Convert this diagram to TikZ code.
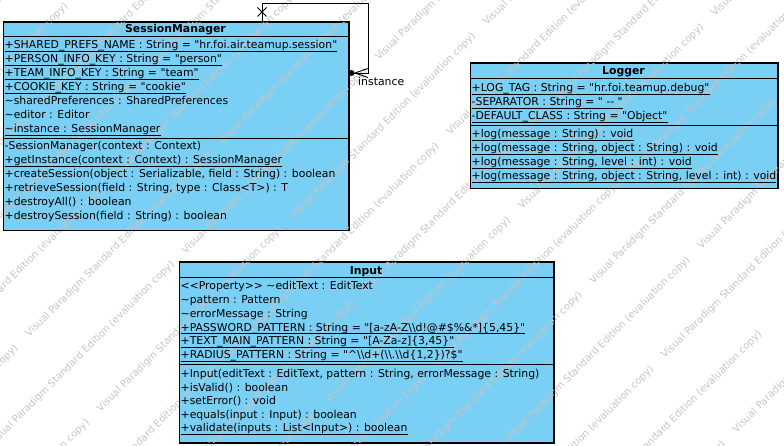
\documentclass[tikz,border=0pt]{standalone}
\usepackage{fontspec}
\setmainfont{DejaVu Sans}[Ligatures=TeXOff]
\definecolor{clsfill}{HTML}{7ACFF5}
\definecolor{wmgray}{HTML}{C6C6C6}
\newcommand\crow[3]{\node[row] (#1) at (#2) {#3};}
\newcommand\urow[3]{\node[row] (#1) at (#2) {#3};
  \draw[uline] ([yshift=-2.6pt]#1.base west) -- ([yshift=-2.6pt]#1.base east);}
\newcommand\wmtext{\makebox[273pt][l]{Visual Paradigm Standard Edition (evaluation copy)}}
\begin{document}
\begin{tikzpicture}[x=1pt,y=-1pt,
  cls/.style={draw=black, fill=clsfill, line width=1pt, inner sep=0pt, anchor=north west},
  sepline/.style={line width=0.9pt},
  row/.style={anchor=base west, inner sep=0pt, font=\fontsize{10.85}{14}\selectfont},
  head/.style={anchor=base, inner sep=0pt, font=\fontsize{10.85}{14}\selectfont\bfseries},
  uline/.style={line width=0.7pt},
  assoc/.style={line width=0.9pt},
  wm/.style={anchor=base west, rotate=45, inner sep=0pt, text=wmgray, font=\fontsize{10}{10}\selectfont}
]
\useasboundingbox (0,0) rectangle (784,446);
\fill[white] (0,0) rectangle (784,446);

% class boxes
\node[cls, minimum width=345pt, minimum height=208pt] (sm) at (3,22) {};
\node[cls, minimum width=307pt, minimum height=125pt] (lg) at (470,63) {};
\node[cls, minimum width=374pt, minimum height=180pt] (in) at (179,262) {};

% watermark
\begin{scope}
\clip (0,0) rectangle (784,446);
\foreach \k in {0,...,17}{
  \pgfmathsetmacro\c{2+73*\k}
  \pgfmathsetmacro\ke{2*floor(\k/2)}
  \pgfmathsetmacro\ph{114+71.5*(\ke-4)/2+108*(\k-\ke)}
  \pgfmathsetmacro\xs{mod(\ph+1930,193)-772}
  \node[wm] (wm\k) at (\xs,\c-\xs) {\wmtext\wmtext\wmtext\wmtext\wmtext\wmtext\wmtext\wmtext};
}
\end{scope}

% separators
\draw[sepline] (sm.west |- 0,36) -- (sm.east |- 0,36);
\draw[sepline] (sm.west |- 0,138) -- (sm.east |- 0,138);
\draw[sepline] (lg.west |- 0,78) -- (lg.east |- 0,78);
\draw[sepline] (lg.west |- 0,125) -- (lg.east |- 0,125);
\draw[sepline] (in.west |- 0,277) -- (in.east |- 0,277);
\draw[sepline] (in.west |- 0,364) -- (in.east |- 0,364);
\draw[line width=1pt] (sm.north west) rectangle (sm.south east);
\draw[line width=1pt] (lg.north west) rectangle (lg.south east);
\draw[line width=1pt] (in.north west) rectangle (in.south east);

% SessionManager
\node[head] (smh) at (175.5,33) {SessionManager};
\urow{sa1}{4.5,49}{+SHARED\_PREFS\_NAME : String = "hr.foi.air.teamup.session"}
\urow{sa2}{4.5,63}{+PERSON\_INFO\_KEY : String = "person"}
\urow{sa3}{4.5,77}{+TEAM\_INFO\_KEY : String = "team"}
\urow{sa4}{4.5,91}{+COOKIE\_KEY : String = "cookie"}
\crow{sa5}{4.5,105}{\textasciitilde sharedPreferences : SharedPreferences}
\crow{sa6}{4.5,119}{\textasciitilde editor : Editor}
\urow{sa7}{4.5,133}{\textasciitilde instance : SessionManager}
\crow{so1}{4.5,150}{-SessionManager(context : Context)}
\urow{so2}{4.5,164}{+getInstance(context : Context) : SessionManager}
\crow{so3}{4.5,178}{+createSession(object : Serializable, field : String) : boolean}
\crow{so4}{4.5,192}{+retrieveSession(field : String, type : Class<T>) : T}
\crow{so5}{4.5,206}{+destroyAll() : boolean}
\crow{so6}{4.5,220}{+destroySession(field : String) : boolean}

% Logger
\node[head] (lgh) at (623.5,75) {Logger};
\urow{la1}{471.5,92}{+LOG\_TAG : String = "hr.foi.teamup.debug"}
\urow{la2}{471.5,106}{-SEPARATOR : String = " -- "}
\urow{la3}{471.5,120}{-DEFAULT\_CLASS : String = "Object"}
\urow{lo1}{471.5,138}{+log(message : String) : void}
\urow{lo2}{471.5,152}{+log(message : String, object : String) : void}
\urow{lo3}{471.5,166}{+log(message : String, level : int) : void}
\urow{lo4}{471.5,180}{+log(message : String, object : String, level : int) : void}

% Input
\node[head] (inh) at (366,274) {Input};
\crow{ia1}{180.5,290}{<<Property>> \textasciitilde editText : EditText}
\crow{ia2}{180.5,303.7}{\textasciitilde pattern : Pattern}
\crow{ia3}{180.5,317.4}{\textasciitilde errorMessage : String}
\urow{ia4}{180.5,331.1}{+PASSWORD\_PATTERN : String = "[a-zA-Z\textbackslash\textbackslash d!@\#\$\%\&*]\{5,45\}"}
\urow{ia5}{180.5,344.8}{+TEXT\_MAIN\_PATTERN : String = "[A-Za-z]\{3,45\}"}
\urow{ia6}{180.5,358.5}{+RADIUS\_PATTERN : String = "\textasciicircum\textbackslash\textbackslash d+(\textbackslash\textbackslash .\textbackslash\textbackslash d\{1,2\})?\$"}
\crow{io1}{180.5,377.5}{+Input(editText : EditText, pattern : String, errorMessage : String)}
\crow{io2}{180.5,391}{+isValid() : boolean}
\crow{io3}{180.5,404.5}{+setError() : void}
\crow{io4}{180.5,418}{+equals(input : Input) : boolean}
\urow{io5}{180.5,431.5}{+validate(inputs : List<Input>) : boolean}

% self association
\coordinate (a1) at (262,22);
\coordinate (a2) at (368,3);
\coordinate (a3) at (348,73);
\draw[assoc] (a1) |- (a2) |- (a3);
\draw[assoc] (257.5,7.5) -- (266.5,16.5) (257.5,16.5) -- (266.5,7.5);
\draw[assoc] (368,68.5) -- (355,73) -- (368,77.5);
\fill (351.5,73) circle (3);
\node[row] (instlbl) at (358,86) {instance};
\end{tikzpicture}
\end{document}
